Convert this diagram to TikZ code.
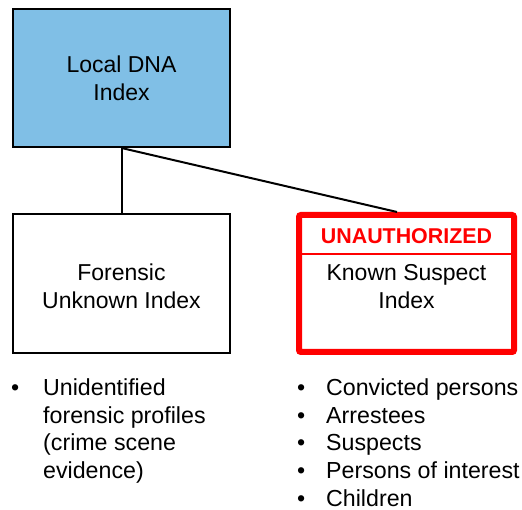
\documentclass[tikz,border=0pt]{standalone}
\usepackage{fontspec}
\setmainfont{Liberation Sans}
\usepackage{array}
\definecolor{dnablue}{RGB}{128,191,230}
\definecolor{alertred}{RGB}{255,0,0}
\tikzset{
  boxline/.style={draw=black, line width=2pt, inner sep=0pt},
  boxtext/.style={inner sep=0pt, align=center, font=\fontsize{23}{28}\selectfont},
  conn/.style={draw=black, line width=2pt},
  listtext/.style={inner sep=0pt, anchor=base west, font=\fontsize{23.2}{27.6}\selectfont}
}
\begin{document}
\begin{tikzpicture}[x=1pt,y=1pt]
\useasboundingbox (0,0) rectangle (522,510);
% boxes
\node[boxline, fill=dnablue, minimum width=217pt, minimum height=138pt] (top) at (121.5,432) {};
\node[boxline, fill=white, minimum width=217pt, minimum height=139pt] (fui) at (121.5,226.5) {};
\node[draw=alertred, line width=6pt, rounded corners=2pt, fill=white, inner sep=0pt,
      minimum width=215pt, minimum height=137pt] (ksi) at (406.5,226.5) {};
% separator inside red box
\coordinate (sepL) at (ksi.west |- 0,256);
\coordinate (sepR) at (ksi.east |- 0,256);
\draw[alertred, line width=2pt] (sepL) -- (sepR);
% connectors
\draw[conn] (top.south) -- (fui.north);
\draw[conn] (top.south) -- ([xshift=-9.5pt]ksi.north);
% texts
\node[boxtext] (ttop) at (121.5,431.3) {Local DNA\\Index};
\node[boxtext] (tfui) at (121.5,223.3) {Forensic\\Unknown Index};
\node[boxtext, anchor=base, text=alertred, font=\fontsize{21.4}{26}\selectfont\bfseries] (tuna) at (406.5,266) {UNAUTHORIZED};
\node[boxtext] (tksi) at (406.5,223.3) {Known Suspect\\Index};
% bullet lists
\node[listtext] (lleft) at (11,114.3) {\begin{tabular}[t]{@{}p{32pt}@{}l@{}}
\textbullet & Unidentified\\
 & forensic profiles\\
 & (crime scene\\
 & evidence)
\end{tabular}};
\node[listtext] (lright) at (297,114.3) {\begin{tabular}[t]{@{}p{29pt}@{}l@{}}
\textbullet & Convicted persons\\
\textbullet & Arrestees\\
\textbullet & Suspects\\
\textbullet & Persons of interest\\
\textbullet & Children
\end{tabular}};
\end{tikzpicture}
\end{document}
